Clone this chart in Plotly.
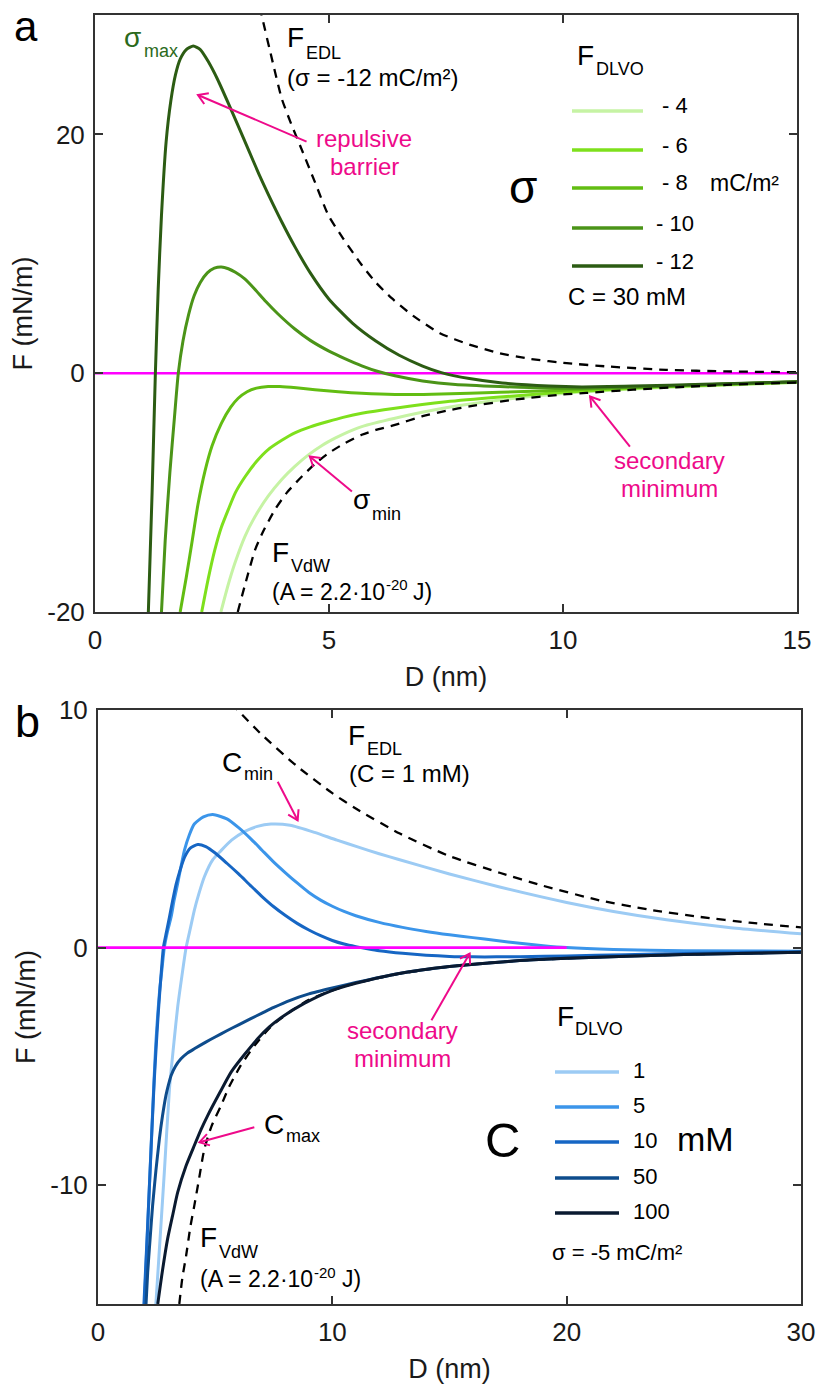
import math
import plotly.graph_objects as go

# ---------------- Panel a : effect of surface charge (C = 30 mM) ----------------
D_s4 = [2.69, 2.84, 2.99, 3.2, 3.42, 3.7, 3.99, 4.27, 4.56, 4.85, 5.13, 5.4, 5.70, 6.41, 7.5, 8.65, 10.0, 12.0, 15.0]
F_s4 = [-20, -17.8, -15.9, -13.7, -12.0, -10.3, -8.9, -7.8, -6.84, -6.05, -5.44, -4.93, -4.47, -3.77, -2.9, -2.25, -1.7, -1.22, -0.77]

D_s6 = [2.28, 2.42, 2.56, 2.7, 2.85, 3.0, 3.21, 3.45, 3.70, 4.0, 4.27, 4.6, 4.98, 5.3, 5.70, 6.41, 7.5, 8.65, 10.0, 12.0, 15.0]
F_s6 = [-20, -17.2, -14.8, -12.9, -11.4, -10.0, -8.65, -7.4, -6.4, -5.6, -5.0, -4.5, -4.05, -3.7, -3.35, -2.93, -2.4, -2.0, -1.6, -1.15, -0.75]

D_s8 = [1.82, 1.95, 2.07, 2.2, 2.35, 2.5, 2.7, 2.9, 3.06, 3.25, 3.45, 3.7, 3.95, 4.3, 4.7, 5.2, 5.7, 6.41, 7.2, 8.0, 8.65, 10.0, 11.5, 13.0, 15.0]
F_s8 = [-20, -17.1, -14.2, -11.0, -8.2, -6.1, -4.2, -2.85, -2.1, -1.55, -1.25, -1.12, -1.12, -1.22, -1.38, -1.55, -1.68, -1.78, -1.76, -1.68, -1.6, -1.42, -1.18, -0.96, -0.73]

D_s10 = [1.42, 1.50, 1.60, 1.70, 1.78, 1.88, 2.0, 2.12, 2.25, 2.4, 2.55, 2.7, 2.85, 3.0, 3.2, 3.4, 3.65, 3.9, 4.27, 4.6, 5.0, 5.35, 5.7, 6.05, 6.41, 7.0, 7.7, 8.65, 9.5, 10.4, 12.0, 13.5, 15.0]
F_s10 = [-20, -14, -8.3, -3.6, 0, 2.7, 4.9, 6.5, 7.6, 8.4, 8.8, 8.9, 8.75, 8.45, 7.9, 7.1, 6.0, 5.0, 3.7, 2.75, 1.85, 1.2, 0.62, 0.14, -0.22, -0.65, -0.95, -1.12, -1.22, -1.26, -1.12, -0.9, -0.72]

D_s12 = [1.14, 1.22, 1.29, 1.35, 1.42, 1.52, 1.62, 1.72, 1.82, 1.95, 2.10, 2.25, 2.42, 2.62, 2.85, 3.05, 3.28, 3.5, 3.7, 4.0, 4.27, 4.6, 5.0, 5.5, 6.0, 6.5, 7.0, 7.4, 8.0, 8.7, 9.7, 10.4, 11.5, 13.0, 15.0]
F_s12 = [-20, -10, 0, 7, 13.2, 19.4, 22.8, 25.0, 26.3, 27.1, 27.4, 27.1, 26.1, 24.6, 22.6, 20.8, 18.7, 16.7, 15.0, 12.6, 10.6, 8.4, 6.2, 4.2, 2.7, 1.5, 0.6, 0.05, -0.45, -0.82, -1.08, -1.15, -1.08, -0.92, -0.72]

D_vdw_a = [3.05, 3.2, 3.42, 3.6, 3.85, 4.1, 4.42, 4.7, 4.99, 5.3, 5.70, 6.0, 6.41, 7.0, 7.5, 8.0, 9.0, 10.0, 10.5, 11.5, 12.5, 13.5, 15.0]
F_vdw_a = [-20, -17.8, -14.8, -13.2, -11.4, -10.0, -8.65, -7.6, -6.7, -5.95, -5.16, -4.75, -4.33, -3.6, -3.15, -2.78, -2.2, -1.78, -1.65, -1.38, -1.16, -0.98, -0.78]

D_edl_a = [3.45, 3.56, 3.8, 3.99, 4.2, 4.41, 4.7, 4.99, 5.3, 5.70, 6.0, 6.34, 6.8, 7.37, 8.0, 8.65, 9.3, 10.08, 11.0, 12.2, 13.5, 15.0]
F_edl_a = [32, 30, 26.0, 23.0, 20.8, 18.8, 16.0, 13.2, 11.3, 9.06, 7.6, 6.28, 4.8, 3.35, 2.4, 1.67, 1.2, 0.84, 0.55, 0.28, 0.15, 0.08]

zero_a_D = [0, 15]
zero_a_F = [0, 0]

sigma_labels = ["- 4", "- 6", "- 8", "- 10", "- 12"]
sigma_colors = ["#c6f3a4", "#7ee01c", "#62bd12", "#4b9418", "#2c5c13"]

# ---------------- Panel b : effect of salt concentration (sigma = -5 mC/m2) ----------------
D_c1 = [2.47, 2.6, 2.83, 3.05, 3.25, 3.40, 3.58, 3.76, 3.95, 4.11, 4.3, 4.54, 4.9, 5.25, 5.7, 6.25, 6.8, 7.38, 8.2, 9.24, 10.2, 11.08, 12.0, 12.8, 15.0, 17.14, 20.0, 22.0, 24.26, 27.0, 30.0]
F_c1 = [-15, -13.0, -9.46, -5.94, -3.9, -2.5, -1.2, 0, 0.85, 1.57, 2.25, 2.98, 3.7, 4.08, 4.52, 4.88, 5.1, 5.2, 5.15, 4.85, 4.52, 4.24, 3.95, 3.72, 3.1, 2.55, 1.9, 1.52, 1.17, 0.84, 0.58]

D_c5 = [1.98, 2.1, 2.2, 2.3, 2.4, 2.47, 2.55, 2.64, 2.73, 2.83, 2.97, 3.12, 3.25, 3.40, 3.55, 3.69, 3.9, 4.11, 4.5, 4.9, 5.5, 6.0, 6.5, 7.0, 7.5, 8.0, 8.5, 9.0, 9.5, 10.0, 10.5, 11.0, 12.0, 13.0, 14.0, 15.0, 16.0, 17.0, 18.0, 19.0, 20.0, 22.0, 25.0, 30.0]
F_c5 = [-15, -12.2, -9.9, -7.6, -5.4, -4.0, -2.8, -1.7, -0.9, 0, 0.7, 1.29, 2.0, 2.7, 3.45, 4.1, 4.75, 5.2, 5.5, 5.6, 5.42, 5.05, 4.6, 4.1, 3.6, 3.15, 2.72, 2.32, 2.0, 1.74, 1.52, 1.34, 1.06, 0.85, 0.68, 0.54, 0.42, 0.3, 0.18, 0.08, 0.0, -0.08, -0.13, -0.15]

D_c10 = [1.96, 2.1, 2.2, 2.3, 2.4, 2.5, 2.58, 2.68, 2.79, 2.92, 3.05, 3.18, 3.33, 3.5, 3.69, 3.95, 4.26, 4.6, 5.0, 5.5, 6.0, 6.5, 7.0, 7.5, 8.0, 8.5, 9.0, 9.5, 10.0, 10.5, 11.0, 11.5, 12.0, 13.0, 14.0, 15.0, 16.0, 17.0, 18.0, 20.0, 22.5, 25.0, 27.5, 30.0]
F_c10 = [-15, -12.1, -9.9, -7.7, -5.6, -3.9, -2.64, -1.3, 0, 0.65, 1.29, 1.95, 2.65, 3.25, 3.8, 4.2, 4.34, 4.25, 3.98, 3.55, 3.1, 2.62, 2.15, 1.72, 1.35, 1.02, 0.74, 0.5, 0.3, 0.15, 0.04, -0.05, -0.13, -0.24, -0.32, -0.37, -0.39, -0.39, -0.38, -0.35, -0.3, -0.25, -0.21, -0.18]

D_c50 = [2.05, 2.12, 2.22, 2.33, 2.47, 2.62, 2.75, 2.9, 3.0, 3.12, 3.3, 3.54, 3.8, 4.11, 4.6, 5.0, 5.5, 6.0, 6.5, 7.0, 7.5, 8.2, 9.0, 10.0, 11.0, 12.8, 15.0, 17.5, 20.0, 25.0, 30.0]
F_c50 = [-15, -13.67, -12.3, -10.86, -9.4, -8.05, -7.1, -6.22, -5.8, -5.38, -5.0, -4.68, -4.45, -4.26, -3.98, -3.76, -3.5, -3.25, -3.0, -2.76, -2.52, -2.22, -1.95, -1.7, -1.47, -1.1, -0.8, -0.58, -0.45, -0.29, -0.2]

D_c100 = [2.55, 2.75, 2.97, 3.2, 3.40, 3.75, 4.11, 4.4, 4.68, 5.2, 5.68, 6.25, 6.82, 7.3, 7.81, 8.8, 9.95, 11.0, 12.79, 15.0, 17.5, 20.0, 25.0, 30.0]
F_c100 = [-15, -13.6, -12.26, -11.2, -10.3, -9.2, -8.33, -7.65, -7.07, -6.1, -5.24, -4.5, -3.83, -3.35, -2.95, -2.35, -1.82, -1.5, -1.1, -0.8, -0.58, -0.45, -0.29, -0.2]

D_vdw_b = [3.47, 3.6, 3.76, 3.95, 4.11, 4.3, 4.54, 4.85, 5.25, 5.6, 6.1, 6.7, 7.4, 8.2, 9.0, 10.0, 11.0, 12.88, 15.0, 17.5, 20.0, 23.0, 26.0, 30.0]
F_vdw_b = [-15, -13.9, -12.97, -11.7, -10.86, -9.8, -8.47, -7.5, -6.65, -5.85, -4.95, -4.1, -3.3, -2.7, -2.2, -1.8, -1.5, -1.1, -0.8, -0.58, -0.45, -0.34, -0.27, -0.2]

D_edl_b = [5.7, 5.96, 7.0, 8.52, 10.0, 11.0, 12.88, 15.0, 17.14, 19.0, 21.4, 23.5, 25.7, 27.8, 30.0]
F_edl_b = [10.3, 10.0, 8.95, 7.61, 6.5, 5.85, 4.8, 3.85, 3.15, 2.6, 1.99, 1.6, 1.29, 1.05, 0.85]

zero_b_D = [0, 20]
zero_b_F = [0, 0]

conc_labels = ["1", "5", "10", "50", "100"]
conc_colors = ["#9ccbf4", "#3b95ea", "#1666c4", "#0e4c8c", "#0a1a30"]

# tick values / labels
xticks_a = [0, 5, 10, 15]
yticks_a = [-20, 0, 20]
xticks_b = [0, 10, 20, 30]
yticks_b = [-10, 0, 10]

# annotation arrows: (tail D, tail F, head D, head F)
arrows_a = [(4.52, 19.4, 2.20, 23.3), (5.49, -9.9, 4.59, -6.98), (11.43, -6.14, 10.58, -1.96)]
arrows_b = [(7.67, 6.98, 8.52, 5.36), (14.23, -3.06, 15.86, -0.25), (6.67, -7.56, 4.33, -8.19)]

# ---------------- geometry ----------------
W, H = 818, 1389
ML, MR, MT, MB = 95, 17, 15, 85
PW, PH = W - ML - MR, H - MT - MB
FONT = "Arial, 'Liberation Sans', sans-serif"
MAG_LINE = "#ff00ff"
MAG_TXT = "#ee0a8a"
DARK = "#333333"
TXT = "#1a1a1a"


def pX(x):
    return (x - ML) / PW


def pY(y):
    return (H - MB - y) / PH


# pixel box of each panel (left, right, top, bottom)
BOX_A = (95, 797, 15, 612)
BOX_B = (98, 801, 710, 1304)
RANGE_A = ((0, 15), (-20, 30))
RANGE_B = ((0, 30), (-15, 10))


def arrow_trace(arrows, box, rng, xa, ya):
    sx = (box[1] - box[0]) / (rng[0][1] - rng[0][0])
    sy = (box[3] - box[2]) / (rng[1][1] - rng[1][0])
    xs, ys = [], []
    L, ang = 11.0, math.radians(32)
    for tD, tF, hD, hF in arrows:
        dx, dy = (hD - tD) * sx, (hF - tF) * sy
        n = math.hypot(dx, dy)
        ux, uy = -dx / n, -dy / n
        xs += [tD, hD, None]
        ys += [tF, hF, None]
        wing = []
        for a in (ang, -ang):
            wx = ux * math.cos(a) - uy * math.sin(a)
            wy = ux * math.sin(a) + uy * math.cos(a)
            wing.append((hD + wx * L / sx, hF + wy * L / sy))
        xs += [wing[0][0], hD, wing[1][0], None]
        ys += [wing[0][1], hF, wing[1][1], None]
    return go.Scatter(x=xs, y=ys, mode="lines", line=dict(color=MAG_TXT, width=2),
                      xaxis=xa, yaxis=ya, showlegend=False, hoverinfo="skip")


fig = go.Figure()
dash_style = dict(color="black", width=2.3, dash="9px,7px", shape="spline", smoothing=0.6)

# panel a
fig.add_trace(go.Scatter(x=zero_a_D, y=zero_a_F, mode="lines", line=dict(color=MAG_LINE, width=2.6),
                         xaxis="x", yaxis="y", showlegend=False))
for D, F, c in zip([D_s4, D_s6, D_s8, D_s10, D_s12], [F_s4, F_s6, F_s8, F_s10, F_s12], sigma_colors):
    fig.add_trace(go.Scatter(x=D, y=F, mode="lines", line=dict(color=c, width=3, shape="spline", smoothing=0.6),
                             xaxis="x", yaxis="y", showlegend=False))
fig.add_trace(go.Scatter(x=D_vdw_a, y=F_vdw_a, mode="lines", line=dash_style, xaxis="x", yaxis="y", showlegend=False))
fig.add_trace(go.Scatter(x=D_edl_a, y=F_edl_a, mode="lines", line=dash_style, xaxis="x", yaxis="y", showlegend=False))
fig.add_trace(arrow_trace(arrows_a, BOX_A, RANGE_A, "x", "y"))

# panel b
fig.add_trace(go.Scatter(x=D_vdw_b, y=F_vdw_b, mode="lines", line=dash_style, xaxis="x2", yaxis="y2", showlegend=False))
fig.add_trace(go.Scatter(x=D_edl_b, y=F_edl_b, mode="lines", line=dash_style, xaxis="x2", yaxis="y2", showlegend=False))
for D, F, c in zip([D_c1, D_c5, D_c10, D_c50, D_c100], [F_c1, F_c5, F_c10, F_c50, F_c100], conc_colors):
    fig.add_trace(go.Scatter(x=D, y=F, mode="lines", line=dict(color=c, width=3, shape="spline", smoothing=0.6),
                             xaxis="x2", yaxis="y2", showlegend=False))
fig.add_trace(go.Scatter(x=zero_b_D, y=zero_b_F, mode="lines", line=dict(color=MAG_LINE, width=2.6),
                         xaxis="x2", yaxis="y2", showlegend=False))
fig.add_trace(arrow_trace(arrows_b, BOX_B, RANGE_B, "x2", "y2"))

axis_common = dict(showline=True, linecolor=DARK, linewidth=2, mirror="ticks", ticks="inside",
                   ticklen=8, tickwidth=1.6, tickcolor=DARK, showgrid=False, zeroline=False,
                   automargin=False, tickfont=dict(size=26, color=TXT, family=FONT))
title_font = dict(size=27, color=TXT, family=FONT)

fig.update_layout(
    template="none",
    width=W, height=H, margin=dict(l=ML, r=MR, t=MT, b=MB, pad=0),
    paper_bgcolor="white", plot_bgcolor="white",
    font=dict(family=FONT, color="black"),
    xaxis=dict(domain=[pX(BOX_A[0]), pX(BOX_A[1])], anchor="y", range=list(RANGE_A[0]),
               tickvals=xticks_a, ticktext=[str(v) for v in xticks_a], ticklabelstandoff=4,
               title=dict(text="D (nm)", font=title_font, standoff=13), **axis_common),
    yaxis=dict(domain=[pY(BOX_A[3]), pY(BOX_A[2])], anchor="x", range=list(RANGE_A[1]),
               tickvals=yticks_a, ticktext=[str(v) for v in yticks_a], ticklabelstandoff=3,
               title=dict(text="F (mN/m)", font=title_font, standoff=7), **axis_common),
    xaxis2=dict(domain=[pX(BOX_B[0]), pX(BOX_B[1])], anchor="y2", range=list(RANGE_B[0]),
                tickvals=xticks_b, ticktext=[str(v) for v in xticks_b], ticklabelstandoff=4,
                title=dict(text="D (nm)", font=title_font, standoff=13), **axis_common),
    yaxis2=dict(domain=[pY(BOX_B[3]), pY(BOX_B[2])], anchor="x2", range=list(RANGE_B[1]),
                tickvals=yticks_b, ticktext=[str(v) for v in yticks_b], ticklabelstandoff=3,
                title=dict(text="F (mN/m)", font=title_font, standoff=7), **axis_common),
)


def txt(text, x, y, size, color="black", xanchor="left"):
    return dict(text=text, x=pX(x), y=pY(y), xref="paper", yref="paper", showarrow=False,
                font=dict(size=size, color=color, family=FONT), xanchor=xanchor, yanchor="middle")


GREEN_T = "#2b6a1c"
ann = []
# ---- panel a ----
ann.append(txt("a", 26, 26, 42, xanchor="center"))
ann.append(txt("σ", 122, 37, 28, color=GREEN_T))
ann.append(txt("max", 142, 51, 18, color=GREEN_T))
ann.append(txt("F", 285, 38, 28))
ann.append(txt("EDL", 304, 53, 18))
ann.append(txt("(σ = -12 mC/m²)", 285, 77, 24))
ann.append(txt("repulsive", 364, 138, 24, color=MAG_TXT, xanchor="center"))
ann.append(txt("barrier", 364, 166, 24, color=MAG_TXT, xanchor="center"))
ann.append(txt("σ", 523, 187, 46, xanchor="center"))
ann.append(txt("F", 575, 55, 28))
ann.append(txt("DLVO", 594, 69, 18))
leg_a_y = [111, 150, 188, 228, 266]
for lab, yy in zip(sigma_labels, leg_a_y):
    ann.append(txt(lab, 675, yy - 5, 22, xanchor="center"))
ann.append(txt("mC/m²", 708, 183, 23))
ann.append(txt("C = 30 mM", 566, 296, 24))
ann.append(txt("σ", 351, 500, 28))
ann.append(txt("min", 370, 514, 18))
ann.append(txt("F", 270, 552, 28))
ann.append(txt("VdW", 289, 566, 18))
ann.append(txt("(A = 2.2·10", 270, 592, 23))
ann.append(txt("-20", 384, 584, 15))
ann.append(txt("J)", 411, 592, 23))
ann.append(txt("secondary", 669, 460, 24, color=MAG_TXT, xanchor="center"))
ann.append(txt("minimum", 669, 489, 24, color=MAG_TXT, xanchor="center"))

# ---- panel b ----
ann.append(txt("b", 27, 721, 45, xanchor="center"))
ann.append(txt("F", 346, 735, 28))
ann.append(txt("EDL", 365, 749, 18))
ann.append(txt("(C = 1 mM)", 347, 773, 24))
ann.append(txt("C", 220, 762, 28))
ann.append(txt("min", 242, 774, 18))
ann.append(txt("secondary", 402, 1030, 24, color=MAG_TXT, xanchor="center"))
ann.append(txt("minimum", 402, 1058, 24, color=MAG_TXT, xanchor="center"))
ann.append(txt("F", 555, 1016, 28))
ann.append(txt("DLVO", 573, 1029, 18))
leg_b_y = [1072, 1107, 1142, 1178, 1213]
for lab, yy in zip(conc_labels, leg_b_y):
    ann.append(txt(lab, 631, yy - 2, 22))
ann.append(txt("mM", 675, 1139, 34))
ann.append(txt("C", 502, 1140, 49, xanchor="center"))
ann.append(txt("σ = -5 mC/m²", 550, 1252, 22))
ann.append(txt("C", 262, 1124, 28))
ann.append(txt("max", 284, 1136, 18))
ann.append(txt("F", 198, 1237, 28))
ann.append(txt("VdW", 217, 1252, 18))
ann.append(txt("(A = 2.2·10", 198, 1279, 23))
ann.append(txt("-20", 312, 1272, 15))
ann.append(txt("J)", 340, 1279, 23))

fig.update_layout(annotations=ann)

# legend sample lines
shapes = []
for c, yy in zip(sigma_colors, leg_a_y):
    shapes.append(dict(type="line", xref="paper", yref="paper", x0=pX(572), x1=pX(643), y0=pY(yy), y1=pY(yy),
                       line=dict(color=c, width=3.5)))
for c, yy in zip(conc_colors, leg_b_y):
    shapes.append(dict(type="line", xref="paper", yref="paper", x0=pX(555), x1=pX(619), y0=pY(yy), y1=pY(yy),
                       line=dict(color=c, width=3.5)))
fig.update_layout(shapes=shapes)

fig.write_html("out.html", config={"displayModeBar": False},
               post_script="document.body.style.margin='0';document.body.style.overflow='hidden';")
